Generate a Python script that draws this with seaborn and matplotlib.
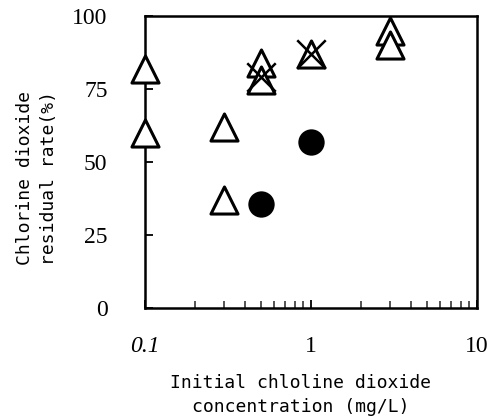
import matplotlib
matplotlib.use("Agg")
import matplotlib.pyplot as plt
import seaborn as sns
import pandas as pd
from matplotlib.ticker import LogLocator, NullFormatter

# Data
tri_x = [0.1, 0.1, 0.3, 0.3, 0.5, 0.5, 1.0, 3.0, 3.0]
tri_y = [82, 60, 62, 37, 84, 78, 87, 95, 90]
cross_x = [0.5, 1.0]
cross_y = [79, 87]
circ_x = [0.5, 1.0]
circ_y = [35.5, 57]

x_ticks = [0.1, 1, 10]
x_tick_labels = ["0.1", "1", "10"]
y_ticks = [0, 25, 50, 75, 100]
y_tick_labels = ["0", "25", "50", "75", "100"]

sns.set_theme(style="white")
plt.rcParams['font.family'] = ['DejaVu Sans Mono', 'DejaVu Sans']

fig = plt.figure(figsize=(4.88, 4.20), dpi=100)
ax = fig.add_axes([145/488, 1-308/420, 332/488, 292/420])

tri = pd.DataFrame({"x": tri_x, "y": tri_y})
crs = pd.DataFrame({"x": cross_x, "y": cross_y})
cir = pd.DataFrame({"x": circ_x, "y": circ_y})

sns.scatterplot(data=tri, x="x", y="y", ax=ax, marker="^", s=380,
                facecolor="white", edgecolor="black", linewidth=2.2,
                clip_on=False, zorder=3)
sns.scatterplot(data=crs, x="x", y="y", ax=ax, marker="x", s=420,
                color="black", linewidth=1.8, clip_on=False, zorder=4)
sns.scatterplot(data=cir, x="x", y="y", ax=ax, marker="o", s=360,
                color="black", edgecolor="black", linewidth=0,
                clip_on=False, zorder=4)

ax.set_xscale("log")
ax.set_xlim(0.1, 10)
ax.set_ylim(0, 100)

for sp in ax.spines.values():
    sp.set_visible(True)
    sp.set_color("black")
    sp.set_linewidth(1.8)

ax.set_xticks(x_ticks)
ax.set_xticklabels(x_tick_labels, family="Liberation Serif", fontsize=17)
ax.get_xticklabels()[0].set_style("italic")
ax.xaxis.set_minor_locator(LogLocator(base=10, subs=range(2, 10)))
ax.xaxis.set_minor_formatter(NullFormatter())
ax.set_yticks(y_ticks)
ax.set_yticklabels(y_tick_labels, family="Liberation Serif", fontsize=17)

ax.tick_params(axis="x", which="major", direction="in", length=6, width=1.3,
               pad=20, bottom=True, top=False, colors="black")
ax.tick_params(axis="x", which="minor", direction="in", length=5, width=1.1,
               bottom=True, top=False)
ax.tick_params(axis="y", which="major", direction="in", length=6, width=1.3,
               pad=27, left=True, right=False, colors="black")

ax.set_xlabel("Initial chloline dioxide\nconcentration (mg/L)", fontsize=13,
              linespacing=1.45, va="top", color="black")
ax.xaxis.set_label_coords((301-145)/332, (308-374)/292)
ax.set_ylabel("Chlorine dioxide\nresidual rate(%)", fontsize=13,
              linespacing=1.45, color="black")
ax.yaxis.set_label_coords((58-145)/332, (308-178)/292)

fig.savefig("out.png", dpi=100)
